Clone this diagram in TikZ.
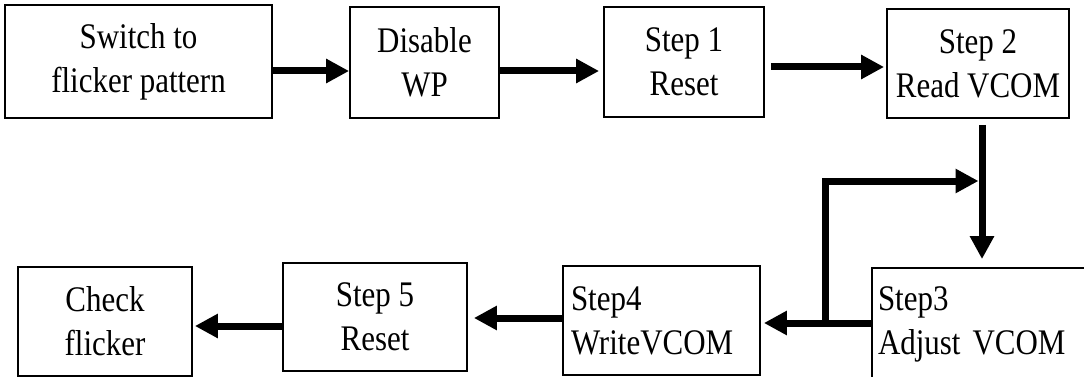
\documentclass[tikz,border=0pt]{standalone}
\usepackage{fontspec}
\setmainfont{Liberation Serif}[FakeStretch=0.86]
\usetikzlibrary{arrows.meta}
\begin{document}
\begin{tikzpicture}[x=1pt,y=-1pt,
  box/.style={draw,line width=1.8pt,rectangle,inner sep=3pt,align=center,font=\fontsize{36}{44}\selectfont},
  lbox/.style={box,align=left},
  flow/.style={line width=7pt,-{Triangle[length=23pt,width=23pt]}},
]
\useasboundingbox (0,0) rectangle (1084,377);
\clip (0,0) rectangle (1084,377);
\fill[white] (0,0) rectangle (1084,377);

\node[box,minimum width=267pt,minimum height=113pt] (sw) at (138.5,61.5) {Switch to\\flicker pattern};
\node[box,minimum width=149pt,minimum height=111pt] (dis) at (424.5,62.5) {Disable\\WP};
\node[box,minimum width=160pt,minimum height=110pt] (s1) at (684,62) {Step 1\\Reset};
\node[box,minimum width=182pt,minimum height=109pt] (s2) at (978,63.5) {Step 2\\Read VCOM};
\node[lbox,minimum width=216pt,minimum height=112pt,text width=204pt,inner xsep=6pt] (s3) at (980,324) {Step3\\Adjust VCOM};
\node[lbox,minimum width=197pt,minimum height=109pt,text width=181pt,inner xsep=8pt] (s4) at (661.5,320.5) {Step4\\WriteVCOM};
\node[box,minimum width=184pt,minimum height=108pt] (s5) at (375,317) {Step 5\\Reset};
\node[box,minimum width=174pt,minimum height=109pt] (ck) at (105,321.5) {Check\\flicker};

\draw[flow] (sw.east |- 0,71) -- (dis.west |- 0,71);
\draw[flow,shorten >=4pt] (dis.east |- 0,71) -- (s1.west |- 0,71);
\draw[flow,shorten <=6pt,shorten >=2pt] (s1.east |- 0,67) -- (s2.west |- 0,67);
\draw[flow,shorten <=6pt,shorten >=8pt] (s2.south -| 982,0) -- (s3.north -| 982,0);
\coordinate (j) at (825,323);
\coordinate (k) at (978.5,181);
\draw[flow] (j) |- (k);
\draw[flow,shorten >=3pt] (s3.west |- 0,323) -- (s4.east |- 0,323);
\draw[flow,shorten >=6pt] (s4.west |- 0,318) -- (s5.east |- 0,318);
\draw[flow,shorten >=2pt] (s5.west |- 0,326) -- (ck.east |- 0,326);
\end{tikzpicture}
\end{document}
